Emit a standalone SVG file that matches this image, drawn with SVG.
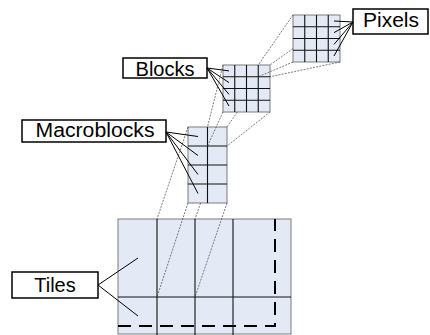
<svg xmlns="http://www.w3.org/2000/svg" width="430" height="335" viewBox="0 0 430 335">
  <style>
    .cell { fill: #E4EAF5; stroke: #7a7a7a; stroke-width: 1; }
    .grid { stroke: #111; stroke-width: 1.1; fill: none; }
    .label rect { fill: #fff; stroke: #000; stroke-width: 1.5; }
    .label text { font-family: "Liberation Sans", Arial, sans-serif; font-size: 20px; fill: #000; text-anchor: middle; }
    .proj { stroke: #444; stroke-width: 0.7; stroke-dasharray: 2 1.2; fill: none; }
    .lead { stroke: #000; stroke-width: 1; fill: none; }
    .bound { stroke: #000; stroke-width: 2; stroke-dasharray: 13 8; fill: none; }
  </style>
  <rect width="430" height="335" fill="#fff"/>

  <!-- tile layer -->
  <g id="tiles">
    <rect class="cell" x="118" y="219" width="173" height="115"/>
    <path class="grid" d="M157 219V335M195 219V335M233 219V335M118 297H291"/>
    <path class="bound" d="M118 326H275V219"/>
  </g>

  <!-- macroblock column: 2 x 4 -->
  <g id="macroblocks">
    <rect class="cell" x="188" y="127" width="39" height="76"/>
    <path class="grid" d="M207.5 127V203M188 146H227M188 165H227M188 184H227"/>
  </g>

  <!-- block grid: 4 x 4 -->
  <g id="blocks">
    <rect class="cell" x="223" y="65" width="47" height="47"/>
    <path class="grid" d="M234.75 65V112M246.5 65V112M258.25 65V112M223 76.75H270M223 88.5H270M223 100.25H270"/>
  </g>

  <!-- pixel grid: 4 x 4 -->
  <g id="pixels">
    <rect class="cell" x="293" y="15" width="47" height="47"/>
    <path class="grid" d="M304.75 15V62M316.5 15V62M328.25 15V62M293 26.75H340M293 38.5H340M293 50.25H340"/>
  </g>

  <g id="label-pixels" class="label">
    <rect x="353" y="9" width="75" height="25"/>
    <text x="391" y="27" textLength="56" lengthAdjust="spacingAndGlyphs">Pixels</text>
  </g>
  <g id="label-blocks" class="label">
    <rect x="123" y="58" width="84" height="20"/>
    <text x="165" y="76">Blocks</text>
  </g>
  <g id="label-macroblocks" class="label">
    <rect x="22" y="120" width="144" height="22"/>
    <text x="95" y="137" textLength="119" lengthAdjust="spacingAndGlyphs">Macroblocks</text>
  </g>
  <g id="label-tiles" class="label">
    <rect x="12" y="272" width="86" height="26"/>
    <text x="55" y="292">Tiles</text>
  </g>

  <g id="connectors">
    <!-- projection lines, pixels -> block cell -->
    <path class="proj" d="M293 15L258.25 65M293 48.6L270 65M293 62L258.25 76.75M340 62L270 76.75"/>
    <!-- projection lines, block grid -> macroblock cell -->
    <path class="proj" d="M223 65L207.5 127M237.4 112L227 127M223 112L207.5 146M270 112L227 146"/>
    <!-- projection lines, macroblock -> tile -->
    <path class="proj" d="M188 127L157 219M200.6 203L195 219M188 203L157 297M227 203L195 297"/>

    <!-- label leaders -->
    <path class="lead" d="M353 22L334 21M353 22L334 32.6M353 22L334 44.4M353 22L334 56"/>
    <path class="lead" d="M207 68L229 70.9M207 68L229 82.6M207 68L229 94.4M207 68L229 106"/>
    <path class="lead" d="M166 132L198 136.5M166 132L198 155.5M166 132L198 174.5M166 132L198 193.5"/>
    <path class="lead" d="M98 285L138 258M98 285L138 316"/>
  </g>
</svg>
